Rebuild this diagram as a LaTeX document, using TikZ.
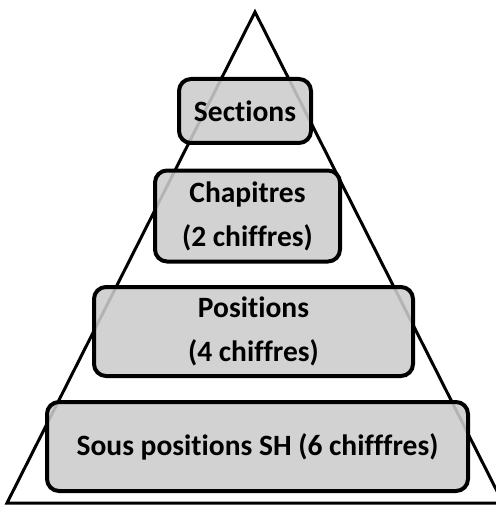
\documentclass[tikz,border=0pt]{standalone}
\usepackage{fontspec}
\setmainfont{Carlito}[Ligatures=NoCommon]
\usepackage{tikz}

\begin{document}
\begin{tikzpicture}[
    x=1pt, y=-1pt,
    level/.style={rectangle, draw, line width=4pt, rounded corners=12pt, fill=black!20, fill opacity=0.88, text opacity=1, align=center, inner sep=0pt, font=\bfseries\fontsize{29.5}{44}\selectfont},
    pyramid/.style={draw, line width=3pt, line join=miter}
]
\useasboundingbox (0,0) rectangle (495,505);

% Pyramid outline
\coordinate (apex) at (255,12);
\coordinate (baseL) at (7,503);
\coordinate (baseR) at (503,503);
\draw[pyramid] (baseL) -- (apex) -- (baseR) -- cycle;

% Levels
\node[level, minimum width=132, minimum height=64] (sections) at (245,111) {Sections};
\node[level, minimum width=185, minimum height=91] (chapitres) at (247.5,216) {Chapitres\\(2 chiffres)};
\node[level, minimum width=319, minimum height=89] (positions) at (253.5,331.5) {Positions\\(4 chiffres)};
\node[level, minimum width=421, minimum height=89] (souspos) at (257.5,446.5) {Sous positions SH (6 chifffres)};

\end{tikzpicture}
\end{document}
